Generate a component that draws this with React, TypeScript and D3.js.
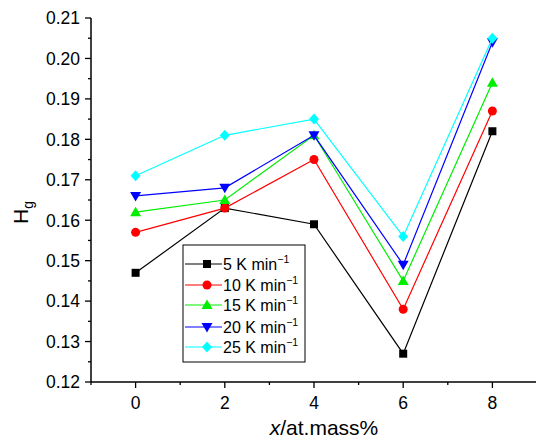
import React from "react";
import * as d3 from "d3";

const xValues = [0, 2, 4, 6, 8];
const seriesNames = ["5 K min", "10 K min", "15 K min", "20 K min", "25 K min"];
const unitExponent = "\u22121";
const s5 = [0.147, 0.163, 0.159, 0.127, 0.182];
const s10 = [0.157, 0.163, 0.175, 0.138, 0.187];
const s15 = [0.162, 0.165, 0.181, 0.145, 0.194];
const s20 = [0.166, 0.168, 0.181, 0.149, 0.204];
const s25 = [0.171, 0.181, 0.185, 0.156, 0.205];
const seriesValues = [s5, s10, s15, s20, s25];
const colors = ["#000000", "#ff0000", "#00ee00", "#0000ff", "#00ffff"];
const symbols = ["square", "circle", "up", "down", "diamond"];
const yTicks = [0.12, 0.13, 0.14, 0.15, 0.16, 0.17, 0.18, 0.19, 0.2, 0.21];
const xTicks = [0, 2, 4, 6, 8];
const xMinor = [-1, 1, 3, 5, 7];
const yMinorTicks = [0.125, 0.135, 0.145, 0.155, 0.165, 0.175, 0.185, 0.195, 0.205];

const x = d3.scaleLinear().domain([-1, 9]).range([91, 537]);
const y = d3.scaleLinear().domain([0.12, 0.21]).range([382, 18]);

function Marker({ type, cx, cy, color }: { type: string; cx: number; cy: number; color: string }) {
  if (type === "square") return <rect x={cx - 4} y={cy - 4} width={8} height={8} fill={color} />;
  if (type === "circle") return <circle cx={cx} cy={cy} r={4.5} fill={color} />;
  if (type === "up") return <path d={`M${cx},${cy - 5.5}L${cx + 5.5},${cy + 4}L${cx - 5.5},${cy + 4}Z`} fill={color} />;
  if (type === "down") return <path d={`M${cx},${cy + 5.5}L${cx + 5.5},${cy - 4}L${cx - 5.5},${cy - 4}Z`} fill={color} />;
  return <path d={`M${cx},${cy - 5.5}L${cx + 5},${cy}L${cx},${cy + 5.5}L${cx - 5},${cy}Z`} fill={color} />;
}

export default function App() {
  const line = d3
    .line<number>()
    .x((_, i) => x(xValues[i]))
    .y((d) => y(d));
  const font = "'Liberation Sans', Arial, Helvetica, sans-serif";
  const legendRows = [264, 285, 305, 327, 347];
  return (
    <svg width={536} height={444} style={{ position: "absolute", left: 0, top: 0 }} fontFamily={font}>
      <rect width={536} height={444} fill="#fff" />
      {seriesValues.map((vals, si) => (
        <g key={si}>
          <path d={line(vals) || ""} fill="none" stroke={colors[si]} strokeWidth={1.2} />
          {vals.map((v, i) => (
            <Marker key={i} type={symbols[si]} cx={x(xValues[i])} cy={y(v)} color={colors[si]} />
          ))}
        </g>
      ))}
      {/* axes */}
      <line x1={91} x2={91} y1={18} y2={382} stroke="#000" strokeWidth={1.5} />
      <line x1={91} x2={536} y1={382} y2={382} stroke="#000" strokeWidth={1.5} />
      {yTicks.map((t) => (
        <g key={t}>
          <line x1={85} x2={91} y1={y(t)} y2={y(t)} stroke="#000" strokeWidth={1.3} />
          <text x={80} y={y(t)} dy="0.36em" textAnchor="end" fontSize={17.5}>
            {t.toFixed(2)}
          </text>
        </g>
      ))}
      {yMinorTicks.map((t) => (
        <line key={t} x1={88} x2={91} y1={y(t)} y2={y(t)} stroke="#000" strokeWidth={1.3} />
      ))}
      {xTicks.map((t) => (
        <g key={t}>
          <line x1={x(t)} x2={x(t)} y1={382} y2={388} stroke="#000" strokeWidth={1.3} />
          <text x={x(t)} y={409} textAnchor="middle" fontSize={17.5}>
            {t}
          </text>
        </g>
      ))}
      {xMinor.map((t) => (
        <line key={t} x1={x(t)} x2={x(t)} y1={382} y2={385} stroke="#000" strokeWidth={1.3} />
      ))}
      <text x={324} y={435} textAnchor="middle" fontSize={21}>
        <tspan fontStyle="italic">x</tspan>/at.mass%
      </text>
      <text transform="translate(28,224) rotate(-90)" textAnchor="start" fontSize={21}>
        H<tspan fontSize={14} dy={5}>g</tspan>
      </text>
      {/* legend */}
      <rect x={183} y={245} width={122} height={117} fill="#fff" stroke="#000" strokeWidth={1} />
      {seriesNames.map((name, i) => (
        <g key={i}>
          <line x1={185} x2={222} y1={legendRows[i]} y2={legendRows[i]} stroke={colors[i]} strokeWidth={1.2} />
          <Marker type={symbols[i]} cx={207} cy={legendRows[i]} color={colors[i]} />
          <text x={223} y={legendRows[i] + 5.8} fontSize={16}>
            {name}
            <tspan fontSize={10.5} dy={-7}>{unitExponent}</tspan>
          </text>
        </g>
      ))}
    </svg>
  );
}
